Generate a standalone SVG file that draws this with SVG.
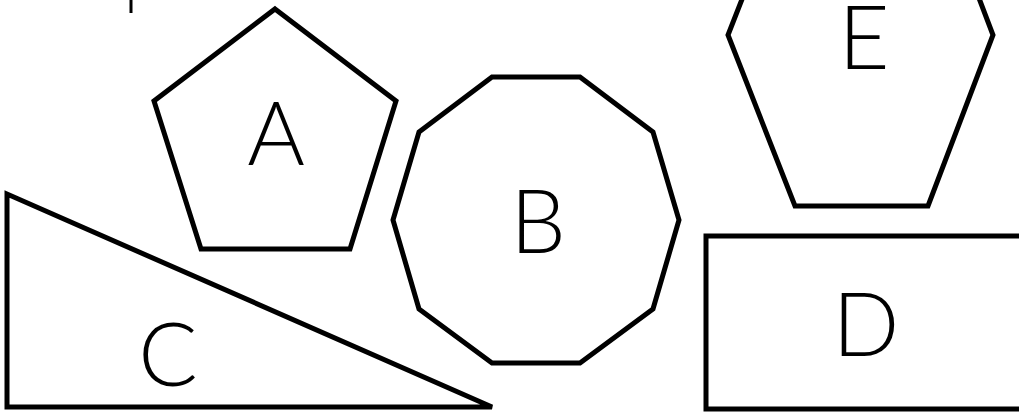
<svg xmlns="http://www.w3.org/2000/svg" width="1019" height="418" viewBox="0 0 1019 418">
<style>
.s{fill:none;stroke:#000;stroke-width:5;stroke-linejoin:miter}
.t{font-family:"Lato","Open Sans",sans-serif;font-weight:300;font-size:88px;fill:#000;text-anchor:middle}
</style>
<rect width="1019" height="418" fill="#fff"/>
<g id="mark"><line x1="131" y1="0" x2="131" y2="13" stroke="#000" stroke-width="3"/></g>
<g id="A"><polygon class="s" points="275,9 396,101 350,249 201,249 154,101"/><text class="t" x="276" y="165">A</text></g>
<g id="B"><polygon class="s" points="492,77 580,77 653,132 679,220 653,309 580,363 492,363 419,309 393,220 419,132"/><text class="t" x="538" y="253">B</text></g>
<g id="C"><polygon class="s" points="7,194 7,407 492,407"/><text class="t" x="168" y="386">C</text></g>
<g id="D"><rect class="s" x="706" y="236" width="330" height="173"/><text class="t" x="866" y="356">D</text></g>
<g id="E"><polygon class="s" points="795,-136 928,-136 993,35 928,206 795,206 728,35"/><text class="t" x="864" y="69">E</text></g>
<g id="connectors"></g>
</svg>
